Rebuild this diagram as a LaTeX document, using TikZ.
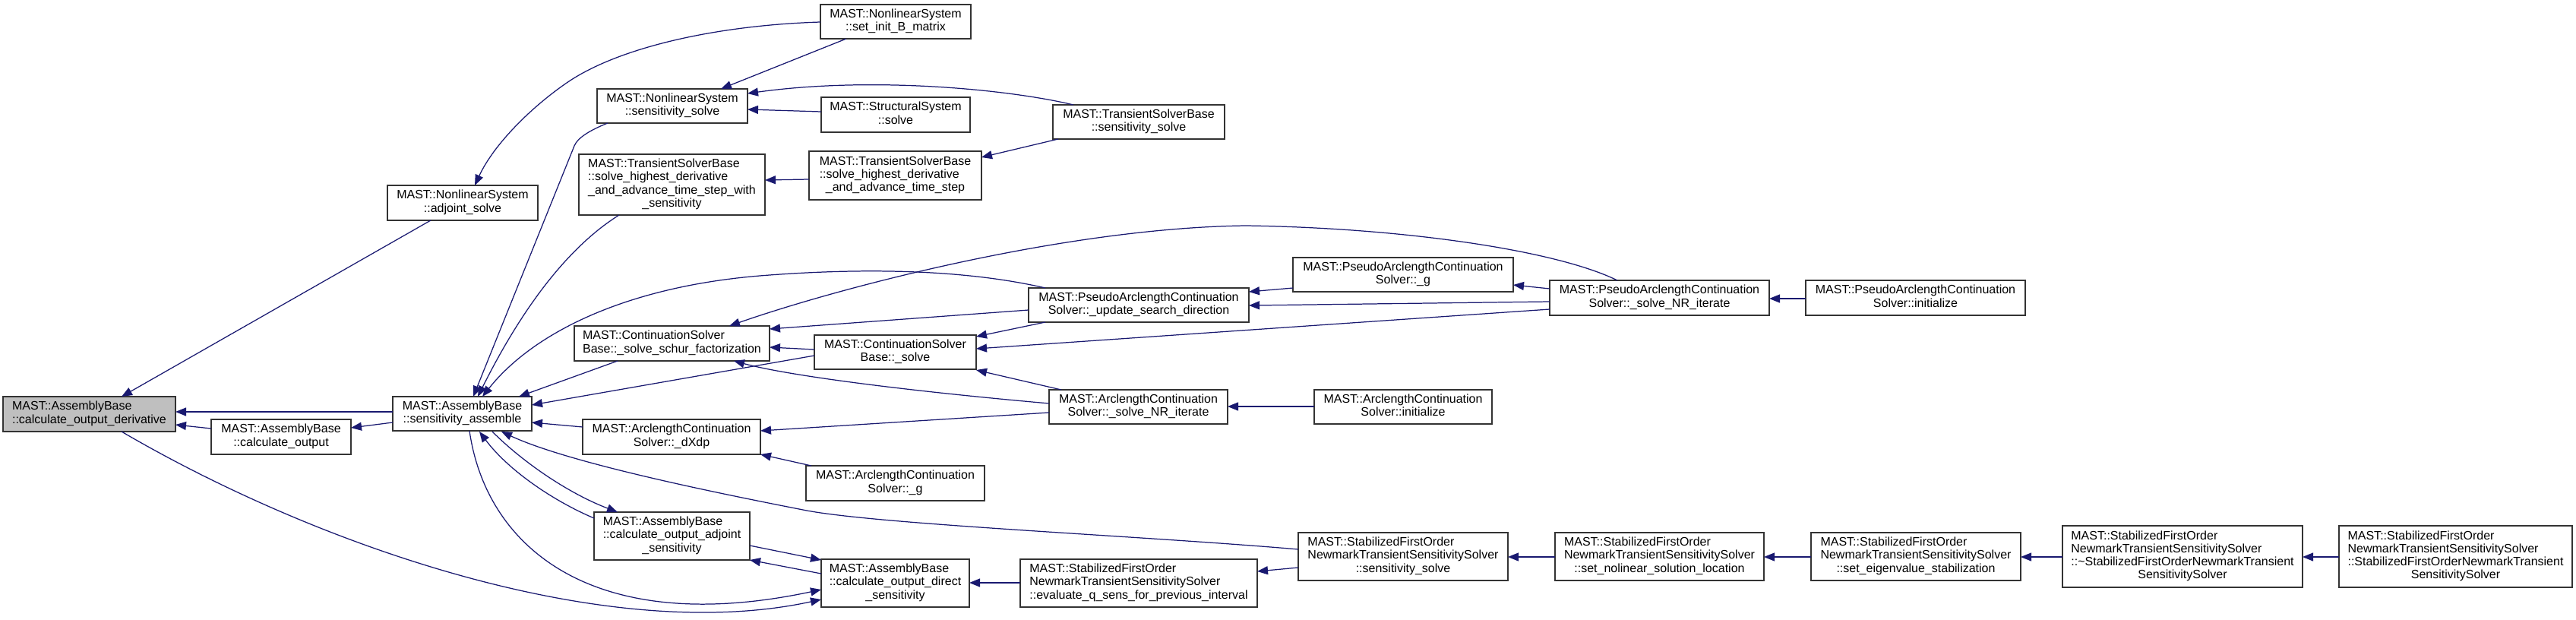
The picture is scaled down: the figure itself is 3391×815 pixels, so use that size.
\documentclass[tikz,border=0pt]{standalone}
\usepackage{fontspec}
\setmainfont{Liberation Sans}
\usetikzlibrary{arrows.meta,calc}
\definecolor{edgec}{HTML}{191970}
\definecolor{bordc}{HTML}{333333}
\definecolor{mainfill}{HTML}{BFBFBF}
\newcommand\lab[2]{\begin{tabular}{@{}l@{}}#1\\\multicolumn{1}{@{}c@{}}{#2}\end{tabular}}
\newcommand\nd[7][]{%
  \node[box,#1,minimum width={(#5-#3)*0.5pt},minimum height={(#6-#4)*0.5pt}] (#2) at ({(#3+#5)/2},{(#4+#6)/2}) {#7};
  \expandafter\gdef\csname X#2\endcsname{#3}%
  \expandafter\gdef\csname Y#2\endcsname{#4}}
\newcommand\pp[3]{($(#1.north west)+({#2-\csname X#1\endcsname},{#3-\csname Y#1\endcsname})$)}
\begin{document}
\begin{tikzpicture}[x=0.5pt,y=-0.5pt,
  box/.style={draw=bordc, line width=0.65pt, fill=white, inner sep=0pt, outer sep=0pt,
    anchor=center, font=\fontsize{8}{8.65}\selectfont},
  edge/.style={draw=edgec, line width=0.62pt, -{Triangle[length=7pt,width=5.5pt]}}]
\useasboundingbox (0,0) rectangle (3391,815);

% nodes
\nd[fill=mainfill]{deriv}{4}{522}{231}{568}{\lab{MAST::AssemblyBase}{::calculate\_output\_derivative}}
\nd{calcout}{278}{552}{462}{598}{\lab{MAST::AssemblyBase}{::calculate\_output}}
\nd{assemble}{517}{522}{700}{567}{\lab{MAST::AssemblyBase}{::sensitivity\_assemble}}
\nd{adjsolve}{510}{244}{708}{290}{\lab{MAST::NonlinearSystem}{::adjoint\_solve}}
\nd{binit}{1080}{6}{1278}{51}{\lab{MAST::NonlinearSystem}{::set\_init\_B\_matrix}}
\nd{nssens}{786}{117}{984}{162}{\lab{MAST::NonlinearSystem}{::sensitivity\_solve}}
\nd{struct}{1081}{128}{1277}{174}{\lab{MAST::StructuralSystem}{::solve}}
\nd{tsbwith}{762}{203}{1007}{283}{\lab{MAST::TransientSolverBase\\::solve\_highest\_derivative\\\_and\_advance\_time\_step\_with}{\_sensitivity}}
\nd{tsbstep}{1065}{199}{1292}{263}{\lab{MAST::TransientSolverBase\\::solve\_highest\_derivative}{\_and\_advance\_time\_step}}
\nd{tsbsens}{1386}{138}{1612}{183}{\lab{MAST::TransientSolverBase}{::sensitivity\_solve}}
\nd{schur}{756}{429}{1013}{475}{\lab{MAST::ContinuationSolver}{Base::\_solve\_schur\_factorization}}
\nd{csolve}{1072}{441}{1285}{486}{\lab{MAST::ContinuationSolver}{Base::\_solve}}
\nd{update}{1354}{379}{1644}{424}{\lab{MAST::PseudoArclengthContinuation}{Solver::\_update\_search\_direction}}
\nd{pag}{1702}{339}{1992}{384}{\lab{MAST::PseudoArclengthContinuation}{Solver::\_g}}
\nd{panr}{2040}{369}{2329}{415}{\lab{MAST::PseudoArclengthContinuation}{Solver::\_solve\_NR\_iterate}}
\nd{painit}{2377}{369}{2666}{415}{\lab{MAST::PseudoArclengthContinuation}{Solver::initialize}}
\nd{alcnr}{1381}{513}{1616}{558}{\lab{MAST::ArclengthContinuation}{Solver::\_solve\_NR\_iterate}}
\nd{alcinit}{1730}{513}{1964}{558}{\lab{MAST::ArclengthContinuation}{Solver::initialize}}
\nd{dxdp}{767}{552}{1001}{598}{\lab{MAST::ArclengthContinuation}{Solver::\_dXdp}}
\nd{alcg}{1061}{613}{1296}{659}{\lab{MAST::ArclengthContinuation}{Solver::\_g}}
\nd{adjsens}{782}{674}{987}{737}{\lab{MAST::AssemblyBase\\::calculate\_output\_adjoint}{\_sensitivity}}
\nd{dirsens}{1081}{736}{1276}{799}{\lab{MAST::AssemblyBase\\::calculate\_output\_direct}{\_sensitivity}}
\nd{evalq}{1343}{736}{1655}{799}{\lab{MAST::StabilizedFirstOrder\\NewmarkTransientSensitivitySolver}{::evaluate\_q\_sens\_for\_previous\_interval}}
\nd{sfosens}{1709}{701}{1985}{764}{\lab{MAST::StabilizedFirstOrder\\NewmarkTransientSensitivitySolver}{::sensitivity\_solve}}
\nd{nolin}{2047}{701}{2322}{764}{\lab{MAST::StabilizedFirstOrder\\NewmarkTransientSensitivitySolver}{::set\_nolinear\_solution\_location}}
\nd{eigen}{2384}{701}{2660}{764}{\lab{MAST::StabilizedFirstOrder\\NewmarkTransientSensitivitySolver}{::set\_eigenvalue\_stabilization}}
\nd{dtor}{2715}{692}{3031}{773}{\lab{MAST::StabilizedFirstOrder\\NewmarkTransientSensitivitySolver\\::\textasciitilde StabilizedFirstOrderNewmarkTransient}{SensitivitySolver}}
\nd{ctor}{3079}{692}{3386}{773}{\lab{MAST::StabilizedFirstOrder\\NewmarkTransientSensitivitySolver\\::StabilizedFirstOrderNewmarkTransient}{SensitivitySolver}}

% edges (caller -> callee, arrow at callee)
\draw[edge] \pp{assemble}{517}{542} -- \pp{deriv}{231}{542};
\draw[edge] \pp{calcout}{278}{564} -- \pp{deriv}{231}{559};
\draw[edge] \pp{assemble}{517}{556} -- \pp{calcout}{462}{563};
\draw[edge] \pp{adjsolve}{567}{290} -- \pp{deriv}{160}{522};
\draw[edge] \pp{deriv}{160}{568} .. controls (420,720) and (800,850) .. \pp{dirsens}{1081}{789};
\draw[edge] \pp{assemble}{618}{567} .. controls (640,720) and (780,840) .. \pp{dirsens}{1081}{776};
\draw[edge] \pp{adjsens}{782}{682} .. controls (730,660) and (670,620) .. \pp{assemble}{631}{568};
\draw[edge] \pp{assemble}{648}{568} .. controls (690,610) and (750,650) .. \pp{adjsens}{813}{674};
\draw[edge] \pp{sfosens}{1709}{723} .. controls (1500,705) and (1150,690) .. (1057,671) .. controls (950,650) and (750,610) .. \pp{assemble}{660}{568};
\draw[edge] \pp{adjsens}{987}{718} -- \pp{dirsens}{1081}{737};
\draw[edge] \pp{dirsens}{1081}{755} -- \pp{adjsens}{987}{737};
\draw[edge] \pp{evalq}{1343}{767} -- \pp{dirsens}{1276}{767};
\draw[edge] \pp{sfosens}{1709}{747} -- \pp{evalq}{1655}{752};
\draw[edge] \pp{nolin}{2047}{733} -- \pp{sfosens}{1985}{733};
\draw[edge] \pp{eigen}{2384}{733} -- \pp{nolin}{2322}{733};
\draw[edge] \pp{dtor}{2715}{733} -- \pp{eigen}{2660}{733};
\draw[edge] \pp{ctor}{3079}{733} -- \pp{dtor}{3031}{733};
\draw[edge] \pp{binit}{1080}{29} .. controls (950,33) and (820,60) .. (749,107) .. controls (700,140) and (650,190) .. \pp{adjsolve}{625}{244};
\draw[edge] \pp{binit}{1114}{51} -- \pp{nssens}{949}{117};
\draw[edge] \pp{struct}{1081}{147} -- \pp{nssens}{984}{144};
\draw[edge] \pp{tsbsens}{1413}{138} .. controls (1330,118) and (1150,100) .. \pp{nssens}{984}{123};
\draw[edge] \pp{tsbsens}{1393}{183} -- \pp{tsbstep}{1292}{207};
\draw[edge] \pp{tsbstep}{1065}{236} -- \pp{tsbwith}{1007}{237};
\draw[edge] \pp{nssens}{800}{162} .. controls (775,172) and (760,182) .. (756,192) -- \pp{assemble}{623}{522};
\draw[edge] \pp{tsbwith}{815}{283} .. controls (740,330) and (680,420) .. \pp{assemble}{629}{522};
\draw[edge] \pp{update}{1376}{379} .. controls (1250,350) and (1100,355) .. (1000,363) .. controls (820,378) and (700,440) .. \pp{assemble}{635}{522};
\draw[edge] \pp{schur}{813}{475} -- \pp{assemble}{683}{522};
\draw[edge] \pp{csolve}{1072}{468} -- \pp{assemble}{700}{533};
\draw[edge] \pp{dxdp}{767}{562} -- \pp{assemble}{700}{556};
\draw[edge] \pp{alcg}{1068}{613} -- \pp{dxdp}{1001}{598};
\draw[edge] \pp{alcnr}{1381}{543} -- \pp{dxdp}{1001}{567};
\draw[edge] \pp{alcnr}{1381}{531} .. controls (1200,515) and (1040,495) .. \pp{schur}{966}{475};
\draw[edge] \pp{alcnr}{1397}{513} -- \pp{csolve}{1285}{487};
\draw[edge] \pp{alcinit}{1730}{535} -- \pp{alcnr}{1616}{535};
\draw[edge] \pp{update}{1376}{424} -- \pp{csolve}{1285}{443};
\draw[edge] \pp{update}{1354}{408} -- \pp{schur}{1013}{433};
\draw[edge] \pp{csolve}{1072}{460} -- \pp{schur}{1013}{457};
\draw[edge] \pp{panr}{2129}{369} .. controls (2050,330) and (1850,300) .. (1640,297) .. controls (1400,300) and (1100,380) .. \pp{schur}{960}{429};
\draw[edge] \pp{panr}{2040}{397} -- \pp{update}{1644}{402};
\draw[edge] \pp{panr}{2040}{407} -- \pp{csolve}{1285}{459};
\draw[edge] \pp{panr}{2040}{380} -- \pp{pag}{1992}{375};
\draw[edge] \pp{pag}{1702}{379} -- \pp{update}{1644}{384};
\draw[edge] \pp{painit}{2377}{393} -- \pp{panr}{2329}{393};
\end{tikzpicture}
\end{document}
